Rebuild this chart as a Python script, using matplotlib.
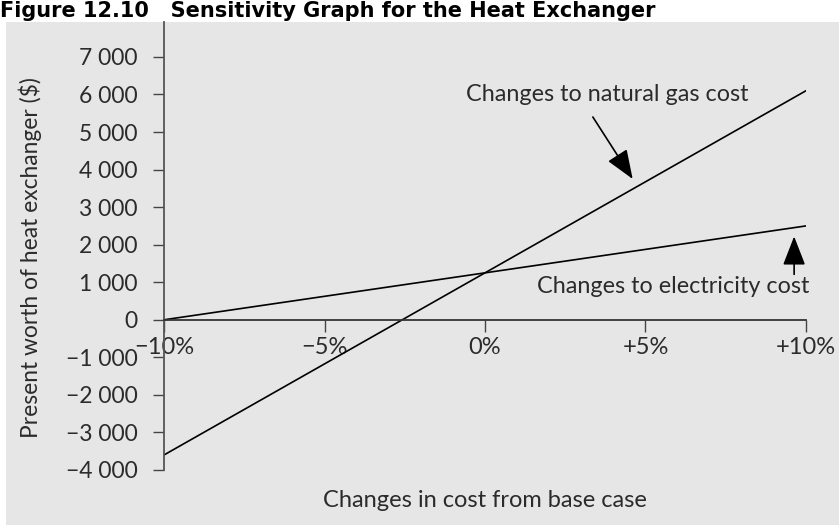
import matplotlib
matplotlib.use("Agg")
import matplotlib.pyplot as plt
from matplotlib.patches import Rectangle

# data
change_pct = [-10, 0, 10]
gas_pw = [-3600, 1250, 6100]
elec_pw = [0, 1250, 2500]

x_ticks = [-10, -5, 0, 5, 10]
x_labels = ["\u221210%", "\u22125%", "0%", "+5%", "+10%"]
y_ticks = [-4000, -3000, -2000, -1000, 0, 1000, 2000, 3000, 4000, 5000, 6000, 7000]
y_labels = ["\u22124 000", "\u22123 000", "\u22122 000", "\u22121 000", "0", "1 000",
            "2 000", "3 000", "4 000", "5 000", "6 000", "7 000"]

plt.rcParams["font.family"] = ["Lato", "DejaVu Sans"]
TXT = "#2b2b2b"

W, H = 839, 525
fig = plt.figure(figsize=(W / 100, H / 100), dpi=100)
fig.patch.set_facecolor("white")
fig.patches.append(Rectangle((6 / W, 0), 1, 1 - 22 / H, transform=fig.transFigure,
                             facecolor="#e6e6e6", edgecolor="none", zorder=-10))

fig.text(0.0, 1 - 17 / H, "Figure 12.10   Sensitivity Graph for the Heat Exchanger",
         fontsize=15, fontweight="bold", va="baseline", ha="left",
         family=["DejaVu Sans"], color="black")

left, right, top, bottom = 164, 806, 22, 470
ax = fig.add_axes([left / W, 1 - bottom / H, (right - left) / W, (bottom - top) / H])
ax.set_facecolor("none")
ax.set_zorder(5)

ax.plot(change_pct, gas_pw, color="black", lw=1.2)
ax.plot(change_pct, elec_pw, color="black", lw=1.2)

ax.set_xlim(-10, 10)
ax.set_ylim(-4000, 7930)

for s in ("top", "right"):
    ax.spines[s].set_visible(False)
ax.spines["bottom"].set_position(("data", 0))
ax.spines["bottom"].set_color("#333333")
ax.spines["left"].set_color("#555555")
ax.spines["left"].set_linewidth(1.3)
ax.spines["bottom"].set_linewidth(1.3)

ax.set_xticks(x_ticks, x_labels)
ax.set_yticks(y_ticks, y_labels)
ax.tick_params(axis="x", direction="out", length=8.5, width=1, color="#444444",
               pad=4, labelsize=17, labelcolor=TXT)
ax.tick_params(axis="y", direction="out", length=8, width=1, color="#444444",
               pad=11, labelsize=16.5, labelcolor=TXT)

ax.set_ylabel("Present worth of heat exchanger ($)", fontsize=16.4, color=TXT)
ax.yaxis.set_label_coords(-0.19, 0.475)
ax.set_xlabel("Changes in cost from base case", fontsize=17, color=TXT)
ax.xaxis.set_label_coords(0.5, -0.045)

arrow = dict(arrowstyle="-|>,head_length=0.9,head_width=0.35", mutation_scale=20,
             color="black", lw=1.2, shrinkA=0, shrinkB=0)
ax.annotate("", xy=(4.6, 3750), xytext=(3.36, 5400), arrowprops=arrow)
ax.text(3.8, 5990, "Changes to natural gas cost", ha="center", va="center",
        fontsize=16.8, color=TXT)
ax.annotate("", xy=(9.63, 2220), xytext=(9.63, 1210), arrowprops=arrow)
ax.text(5.86, 890, "Changes to electricity cost", ha="center", va="center",
        fontsize=16.8, color=TXT)

fig.savefig("out.png", dpi=100)
